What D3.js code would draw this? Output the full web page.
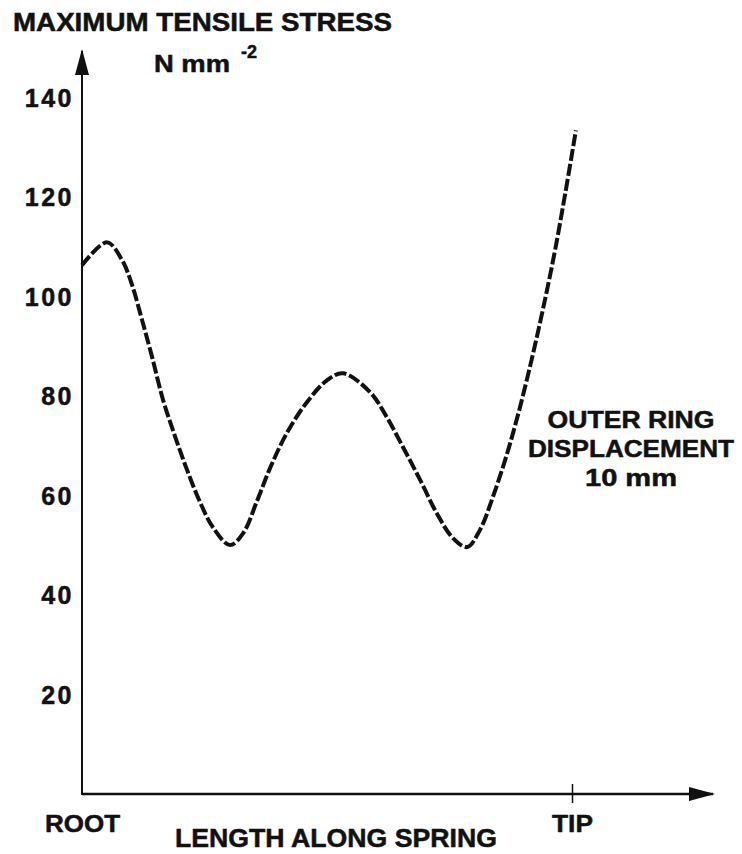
<!DOCTYPE html>
<html>
<head>
<meta charset="utf-8">
<script src="https://cdn.jsdelivr.net/npm/d3@7"></script>
<style>
  body { margin: 0; background: #fff; }
  text { font-family: "Liberation Sans", Arial, Helvetica, sans-serif; font-weight: bold; fill: #111; stroke: #111; stroke-width: 0.5px; }
</style>
</head>
<body>
<div id="chart"></div>
<script>
// length along spring in % of root-to-tip, stress in N mm^-2
const lengthPct = [0, 5.1, 8.2, 10.2, 12.2, 14.3, 16.5, 19.0, 21.4, 24.1, 26.7, 30.2, 32.9, 35.7, 38.4,
    41.8, 45.9, 50.0, 53.3, 58.8, 62.2, 65.5, 69.0, 72.4, 75.7, 78.6, 81.2, 83.9, 86.7, 89.2,
    91.8, 94.1, 96.5, 98.6, 100.8];
const stress = [106.2, 110.8, 107.2, 102.3, 95.4, 87.8, 79.3, 71.8, 65.2, 58.6, 53.6, 50.0, 52.4, 58.8, 65.5,
    72.5, 78.7, 83.1, 84.5, 80.7, 75.7, 69.7, 63.1, 56.4, 51.4, 49.6, 53.0, 59.8, 68.2, 77.0,
    87.4, 97.5, 109.0, 120.5, 133.3];
const yTicks = [20, 40, 60, 80, 100, 120, 140];
const xTicks = [0, 100];
const xTickLabels = ["ROOT", "TIP"];

const width = 742;
const height = 854;

const x = d3.scaleLinear().domain([0, 100]).range([82, 572]);
const y = d3.scaleLinear().domain([0, 140]).range([794, 97]);

const svg = d3.select("#chart")
    .append("svg")
    .attr("width", width)
    .attr("height", height);

// arrow heads
const defs = svg.append("defs");
defs.append("marker")
    .attr("id", "arrow")
    .attr("viewBox", "0 0 26 14")
    .attr("refX", 24)
    .attr("refY", 7)
    .attr("markerWidth", 26)
    .attr("markerHeight", 14)
    .attr("markerUnits", "userSpaceOnUse")
    .attr("orient", "auto")
    .append("path")
    .attr("d", "M0,0 L26,7 L0,14 Z")
    .attr("fill", "#111");

// axis lines
svg.append("line")
    .attr("x1", x(0)).attr("y1", y(0))
    .attr("x2", 713).attr("y2", y(0))
    .attr("stroke", "#111")
    .attr("stroke-width", 2.6)
    .attr("marker-end", "url(#arrow)");

svg.append("line")
    .attr("x1", x(0)).attr("y1", y(0) + 1)
    .attr("x2", x(0)).attr("y2", 51)
    .attr("stroke", "#111")
    .attr("stroke-width", 2)
    .attr("marker-end", "url(#arrow)");

// y axis labels
const yAxis = svg.append("g")
    .attr("transform", "translate(" + x(0) + ",0)")
    .call(d3.axisLeft(y).tickValues(yTicks).tickSize(0).tickPadding(8));
yAxis.select(".domain").remove();
yAxis.selectAll("text")
    .style("font-size", "25px")
    .style("letter-spacing", "2.5px")
    .attr("fill", "#111")
    .attr("dy", "0.36em");

// x axis: ROOT / TIP
const xAxis = svg.append("g")
    .attr("transform", "translate(0," + y(0) + ")")
    .call(d3.axisBottom(x).tickValues(xTicks).tickFormat((d, i) => xTickLabels[i]).tickSize(9).tickPadding(0));
xAxis.select(".domain").remove();
xAxis.selectAll(".tick line")
    .attr("y1", -10)
    .attr("stroke", "#111")
    .attr("stroke-width", 1.5)
    .attr("opacity", d => d === 0 ? 0 : 1);
xAxis.selectAll(".tick text")
    .attr("y", 38)
    .attr("dy", null)
    .attr("fill", "#111")
    .style("font-size", "24px")
    .attr("textLength", (d, i) => i === 0 ? 75 : 41)
    .attr("lengthAdjust", "spacingAndGlyphs");

// stress curve
const line = d3.line()
    .x((d, i) => x(lengthPct[i]))
    .y(d => y(d))
    .curve(d3.curveCatmullRom.alpha(0.5));

svg.append("path")
    .datum(stress)
    .attr("d", line)
    .attr("fill", "none")
    .attr("stroke", "#111")
    .attr("stroke-width", 4)
    .attr("stroke-dasharray", "12,3");

// titles
svg.append("text")
    .attr("x", 13)
    .attr("y", 31)
    .style("font-size", "25px")
    .attr("textLength", 379)
    .attr("lengthAdjust", "spacingAndGlyphs")
    .text("MAXIMUM TENSILE STRESS");

svg.append("text")
    .attr("x", 154)
    .attr("y", 72)
    .style("font-size", "24px")
    .attr("textLength", 76)
    .attr("lengthAdjust", "spacingAndGlyphs")
    .text("N mm");

svg.append("text")
    .attr("x", 241)
    .attr("y", 58)
    .style("font-size", "18px")
    .text("-2");

svg.append("text")
    .attr("x", 175)
    .attr("y", 847)
    .style("font-size", "25px")
    .attr("textLength", 322)
    .attr("lengthAdjust", "spacingAndGlyphs")
    .text("LENGTH ALONG SPRING");

// annotation
const note = svg.append("text")
    .attr("text-anchor", "middle")
    .style("font-size", "23px");
const noteLines = [
    { t: "OUTER RING", w: 167, y: 428 },
    { t: "DISPLACEMENT", w: 206, y: 457 },
    { t: "10 mm", w: 92, y: 486 }
];
noteLines.forEach(l => {
    note.append("tspan")
        .attr("x", 631)
        .attr("y", l.y)
        .attr("textLength", l.w)
        .attr("lengthAdjust", "spacingAndGlyphs")
        .text(l.t);
});
</script>
</body>
</html>
